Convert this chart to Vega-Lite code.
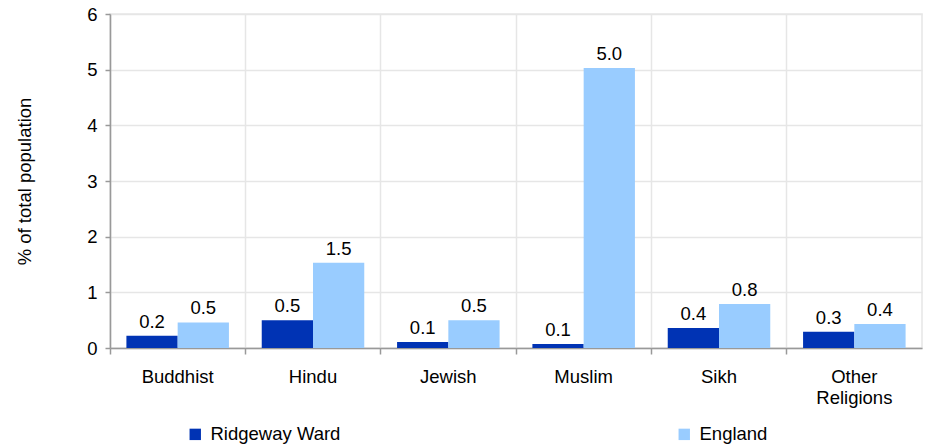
{
  "$schema": "https://vega.github.io/schema/vega-lite/v6.json",
  "width": 812,
  "height": 334,
  "autosize": {"type": "none"},
  "padding": {"left": 110, "top": 14, "right": 3, "bottom": 98},
  "config": {
    "font": "Liberation Sans",
    "view": {"stroke": "#e6e6e6", "strokeWidth": 1.5}
  },
  "data": {
    "values": [
      {"religion": "Buddhist", "area": "Ridgeway Ward", "value": 0.22},
      {"religion": "Buddhist", "area": "England", "value": 0.46},
      {"religion": "Hindu", "area": "Ridgeway Ward", "value": 0.5},
      {"religion": "Hindu", "area": "England", "value": 1.53},
      {"religion": "Jewish", "area": "Ridgeway Ward", "value": 0.11},
      {"religion": "Jewish", "area": "England", "value": 0.5},
      {"religion": "Muslim", "area": "Ridgeway Ward", "value": 0.07},
      {"religion": "Muslim", "area": "England", "value": 5.03},
      {"religion": "Sikh", "area": "Ridgeway Ward", "value": 0.36},
      {"religion": "Sikh", "area": "England", "value": 0.79},
      {"religion": "Other Religions", "area": "Ridgeway Ward", "value": 0.29},
      {"religion": "Other Religions", "area": "England", "value": 0.43}
    ]
  },
  "encoding": {
    "x": {
      "field": "religion",
      "type": "nominal",
      "sort": ["Buddhist", "Hindu", "Jewish", "Muslim", "Sikh", "Other Religions"],
      "scale": {"paddingInner": 0, "paddingOuter": 0},
      "axis": {
        "title": null,
        "labelAngle": 0,
        "labelFontSize": 18.5,
        "labelColor": "#000000",
        "labelPadding": 13,
        "labelExpr": "datum.label == 'Other Religions' ? ['Other', 'Religions'] : datum.label",
        "labelLineHeight": 21,
        "bandPosition": 0,
        "grid": true,
        "gridColor": "#e6e6e6",
        "gridWidth": 1.5,
        "tickSize": 6,
        "tickColor": "#999999",
        "tickWidth": 1.5,
        "domainColor": "#999999",
        "domainWidth": 1.5
      }
    },
    "xOffset": {
      "field": "area",
      "type": "nominal",
      "sort": ["Ridgeway Ward", "England"],
      "scale": {"paddingInner": 0, "paddingOuter": 0.32}
    },
    "y": {
      "field": "value",
      "type": "quantitative",
      "scale": {"domain": [0, 6]},
      "axis": {
        "title": "% of total population",
        "titleFontSize": 18.5,
        "titleFontWeight": "normal",
        "titleColor": "#000000",
        "titlePadding": 52,
        "values": [0, 1, 2, 3, 4, 5, 6],
        "labelFontSize": 18.5,
        "labelColor": "#000000",
        "labelPadding": 8,
        "grid": true,
        "gridColor": "#e6e6e6",
        "gridWidth": 1.5,
        "tickSize": 5,
        "tickColor": "#999999",
        "tickWidth": 1.5,
        "domainColor": "#999999",
        "domainWidth": 1.5
      }
    }
  },
  "layer": [
    {
      "mark": {"type": "bar"},
      "encoding": {
        "color": {
          "field": "area",
          "type": "nominal",
          "sort": ["Ridgeway Ward", "England"],
          "scale": {"domain": ["Ridgeway Ward", "England"], "range": ["#0033b4", "#99ccff"]},
          "legend": {
            "title": null,
            "orient": "none",
            "direction": "horizontal",
            "legendX": 76,
            "legendY": 411,
            "symbolType": "square",
            "symbolSize": 130,
            "symbolStrokeWidth": 0,
            "labelFontSize": 18.5,
            "labelColor": "#000000",
            "columnPadding": 334,
            "labelOffset": 6
          }
        }
      }
    },
    {
      "mark": {"type": "text", "baseline": "bottom", "dy": -4, "fontSize": 18.5, "color": "#000000"},
      "encoding": {
        "text": {"field": "value", "type": "quantitative", "format": ".1f"}
      }
    }
  ]
}
